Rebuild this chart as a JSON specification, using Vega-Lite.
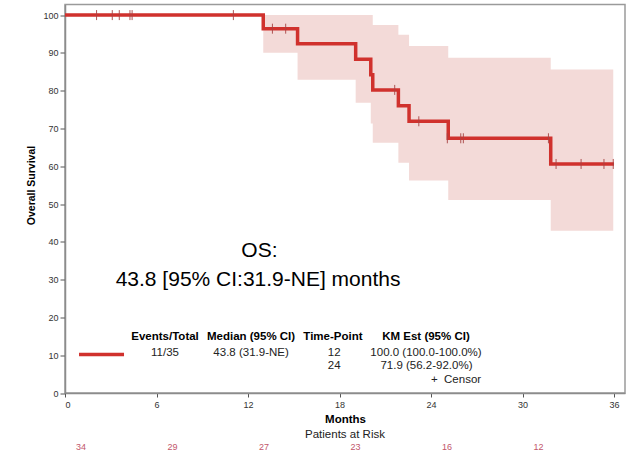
{
  "$schema": "https://vega.github.io/schema/vega-lite/v6.json",
  "width": 560,
  "height": 388.5,
  "autosize": {"type": "none"},
  "padding": {"left": 65, "top": 4.5, "right": 1, "bottom": 66},
  "background": "white",
  "config": {
    "font": "Liberation Sans",
    "view": {"stroke": "#9a9a9a", "strokeWidth": 1.5},
    "axis": {"grid": false, "domainColor": "#8c8c8c", "domainWidth": 1.5, "tickColor": "#555555", "labelColor": "#333333", "labelFontSize": 9, "titleColor": "#000000", "titleFontWeight": "bold"}
  },
  "datasets": {
    "band": [
      {"month": 13.0, "surv": 100, "lo": 90.0},
      {"month": 15.25, "surv": 100, "lo": 82.9},
      {"month": 19.06, "surv": 100, "lo": 76.8},
      {"month": 20.05, "surv": 100, "lo": 71.3},
      {"month": 20.18, "surv": 97.4, "lo": 66.2},
      {"month": 21.86, "surv": 94.8, "lo": 60.9},
      {"month": 22.56, "surv": 91.8, "lo": 56.2},
      {"month": 25.13, "surv": 88.7, "lo": 51.1},
      {"month": 31.85, "surv": 85.6, "lo": 42.9},
      {"month": 35.95, "surv": 85.6, "lo": 42.9}
    ],
    "curve": [
      {"month": 0, "surv": 100},
      {"month": 13.0, "surv": 96.4},
      {"month": 15.25, "surv": 92.4},
      {"month": 19.06, "surv": 88.3},
      {"month": 20.05, "surv": 84.2},
      {"month": 20.18, "surv": 80.2},
      {"month": 21.86, "surv": 76.0},
      {"month": 22.56, "surv": 71.9},
      {"month": 25.13, "surv": 67.4},
      {"month": 31.85, "surv": 60.6},
      {"month": 36.0, "surv": 60.6}
    ],
    "censor": [
      {"month": 2.07, "surv": 100},
      {"month": 3.1, "surv": 100},
      {"month": 3.56, "surv": 100},
      {"month": 4.26, "surv": 100},
      {"month": 4.4, "surv": 100},
      {"month": 11.04, "surv": 100},
      {"month": 13.6, "surv": 96.4},
      {"month": 14.47, "surv": 96.4},
      {"month": 21.62, "surv": 80.2},
      {"month": 23.2, "surv": 71.9},
      {"month": 25.07, "surv": 67.4},
      {"month": 25.95, "surv": 67.4},
      {"month": 26.12, "surv": 67.4},
      {"month": 31.7, "surv": 67.4},
      {"month": 32.2, "surv": 60.6},
      {"month": 33.84, "surv": 60.6},
      {"month": 35.34, "surv": 60.6},
      {"month": 35.95, "surv": 60.6}
    ],
    "legendLine": [{"month": 0.92, "month2": 3.87, "surv": 10.2}],
    "bigText": [
      {"month": 12.75, "surv": 37.6, "label": "OS:"},
      {"month": 12.66, "surv": 29.9, "label": "43.8 [95% CI:31.9-NE] months"}
    ],
    "headers": [
      {"month": 6.56, "surv": 14.8, "label": "Events/Total"},
      {"month": 12.2, "surv": 14.8, "label": "Median (95% CI)"},
      {"month": 17.57, "surv": 14.8, "label": "Time-Point"},
      {"month": 23.67, "surv": 14.8, "label": "KM Est (95% CI)"}
    ],
    "body": [
      {"month": 6.56, "surv": 10.7, "label": "11/35"},
      {"month": 12.2, "surv": 10.7, "label": "43.8 (31.9-NE)"},
      {"month": 17.65, "surv": 10.7, "label": "12"},
      {"month": 23.67, "surv": 10.7, "label": "100.0 (100.0-100.0%)"},
      {"month": 17.65, "surv": 7.1, "label": "24"},
      {"month": 23.7, "surv": 7.1, "label": "71.9 (56.2-92.0%)"},
      {"month": 25.64, "surv": 3.4, "label": "+\u00a0\u00a0Censor"}
    ],
    "riskTitle": [{"month": 18.36, "surv": -11.1, "label": "Patients at Risk"}],
    "risk": [
      {"month": 0, "surv": -14.3, "label": "34"},
      {"month": 6, "surv": -14.3, "label": "29"},
      {"month": 12, "surv": -14.3, "label": "27"},
      {"month": 18, "surv": -14.3, "label": "23"},
      {"month": 24, "surv": -14.3, "label": "16"},
      {"month": 30, "surv": -14.3, "label": "12"}
    ]
  },
  "encoding": {
    "x": {"field": "month", "type": "quantitative", "scale": {"domain": [0, 36.72], "nice": false, "zero": false},
      "axis": {"values": [0, 6, 12, 18, 24, 30, 36], "tickSize": 4, "labelPadding": 3, "title": "Months", "titleFontSize": 11.5, "titlePadding": 4}},
    "y": {"field": "surv", "type": "quantitative", "scale": {"domain": [0, 102.8], "nice": false},
      "axis": {"values": [0, 10, 20, 30, 40, 50, 60, 70, 80, 90, 100], "labelOverlap": false, "tickSize": 5, "labelPadding": 2, "title": "Overall Survival", "titleFontSize": 10.5, "titlePadding": 6, "titleY": 180.5}}
  },
  "layer": [
    {
      "data": {"name": "band"},
      "mark": {"type": "area", "interpolate": "step-after", "color": "#f3dad8", "opacity": 1},
      "encoding": {"y2": {"field": "lo"}}
    },
    {
      "data": {"name": "curve"},
      "mark": {"type": "line", "interpolate": "step-after", "color": "#d0312d", "strokeWidth": 3.5}
    },
    {
      "data": {"name": "censor"},
      "mark": {"type": "point", "shape": "M0,-1L0,1", "size": 100, "filled": false, "color": "#a84444", "strokeWidth": 1, "opacity": 0.9}
    },
    {
      "data": {"name": "legendLine"},
      "mark": {"type": "rule", "color": "#d0312d", "strokeWidth": 3.5},
      "encoding": {"x2": {"field": "month2"}}
    },
    {
      "data": {"name": "bigText"},
      "mark": {"type": "text", "fontSize": 21, "color": "#000000", "align": "center", "baseline": "middle"},
      "encoding": {"text": {"field": "label"}}
    },
    {
      "data": {"name": "headers"},
      "mark": {"type": "text", "fontSize": 11.5, "fontWeight": "bold", "color": "#000000", "align": "center", "baseline": "middle"},
      "encoding": {"text": {"field": "label"}}
    },
    {
      "data": {"name": "body"},
      "mark": {"type": "text", "fontSize": 11.5, "color": "#222222", "align": "center", "baseline": "middle"},
      "encoding": {"text": {"field": "label"}}
    },
    {
      "data": {"name": "riskTitle"},
      "mark": {"type": "text", "fontSize": 11.5, "color": "#222222", "align": "center", "baseline": "middle"},
      "encoding": {"text": {"field": "label"}}
    },
    {
      "data": {"name": "risk"},
      "mark": {"type": "text", "fontSize": 9, "color": "#c2566b", "align": "center", "baseline": "middle", "dx": 16},
      "encoding": {"text": {"field": "label"}}
    }
  ]
}
